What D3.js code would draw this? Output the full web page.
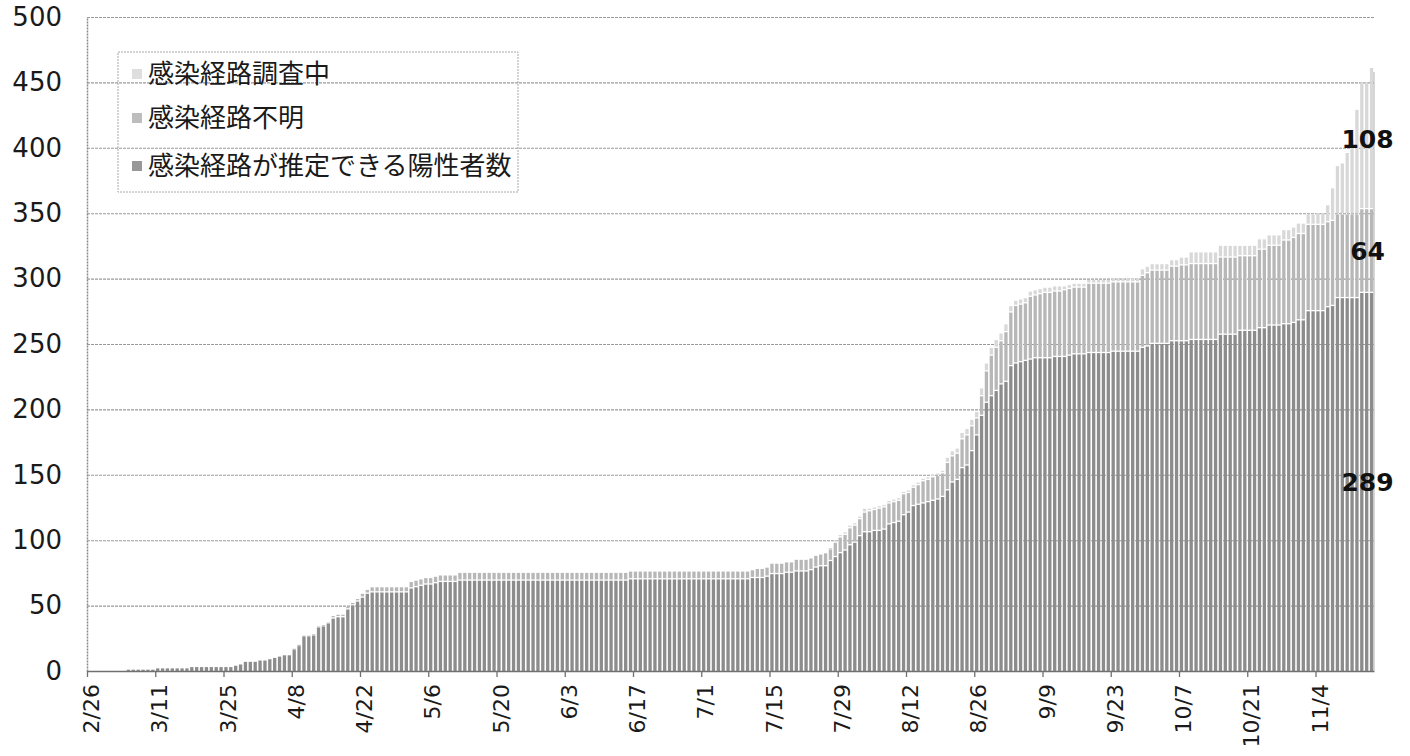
<!DOCTYPE html>
<html><head><meta charset="utf-8">
<script src="https://cdn.jsdelivr.net/npm/d3@7"></script>
<style>body{margin:0;background:#fff;}svg{display:block}</style>
</head><body>
<svg id="chart" width="1410" height="756"></svg>
<script>
// ---- data (cumulative counts, one value per day from 2/26 to 11/15) ----
const seriesNames = ["感染経路が推定できる陽性者数", "感染経路不明", "感染経路調査中"];
const tickLabels = ["2/26","3/11","3/25","4/8","4/22","5/6","5/20","6/3","6/17","7/1","7/15","7/29","8/12","8/26","9/9","9/23","10/7","10/21","11/4"];
const yTicks = [0,50,100,150,200,250,300,350,400,450,500];

const estimated = [
0,0,0,0,0,0,0,0,1,1,
1,1,1,1,2,2,2,2,2,2,
2,3,3,3,3,3,3,3,3,3,
4,5,7,7,7,8,8,9,10,11,
12,12,16,19,26,26,27,33,34,36,
40,41,41,47,50,53,56,59,60,60,
60,60,60,60,60,60,63,64,65,66,
66,67,68,68,68,68,69,69,69,69,
69,69,69,69,69,69,69,69,69,69,
69,69,69,69,69,69,69,69,69,69,
69,69,69,69,69,69,69,69,69,69,
69,70,70,70,70,70,70,70,70,70,
70,70,70,70,70,70,70,70,70,70,
70,70,70,70,70,70,71,71,71,72,
74,74,74,75,75,76,76,76,77,79,
80,80,84,87,90,92,96,98,103,106,
106,107,107,108,112,113,114,119,121,126,
127,128,129,130,131,133,138,144,146,155,
157,168,180,195,205,210,214,219,221,233,
235,236,237,238,239,239,239,239,240,240,
240,241,242,242,242,243,243,243,243,243,
244,244,244,244,244,244,247,248,250,250,
250,250,252,252,252,252,253,253,253,253,
253,253,257,257,257,257,260,260,260,260,
262,262,264,264,264,265,265,266,268,268,
275,275,275,275,278,279,285,285,285,285,
285,289,289,289];

const unknown = [
0,0,0,0,0,0,0,0,0,0,
0,0,0,0,0,0,0,0,0,0,
0,0,0,0,0,0,0,0,0,0,
0,0,0,0,0,0,0,0,0,0,
0,0,1,1,1,1,1,1,1,1,
2,2,2,2,2,2,3,3,4,4,
4,4,4,4,4,4,5,5,5,5,
5,5,5,5,5,5,6,6,6,6,
6,6,6,6,6,6,6,6,6,6,
6,6,6,6,6,6,6,6,6,6,
6,6,6,6,6,6,6,6,6,6,
6,6,6,6,6,6,6,6,6,6,
6,6,6,6,6,6,6,6,6,6,
6,6,6,6,6,6,6,7,7,7,
8,8,8,8,8,9,9,9,9,9,
9,10,9,11,12,12,13,13,13,15,
16,16,17,17,16,16,16,16,15,14,
15,17,17,18,18,18,21,20,20,22,
23,19,13,15,24,31,33,33,38,41,
44,44,44,48,48,49,50,50,50,50,
51,51,51,51,51,53,53,53,53,53,
53,53,53,53,53,53,55,56,56,56,
56,56,57,57,58,58,58,58,58,58,
58,58,59,59,59,59,57,57,57,57,
60,60,61,61,61,64,64,65,66,66,
66,66,66,66,65,65,64,64,64,64,
64,64,64,64];

const investigating = [
0,0,0,0,0,0,0,0,0,0,
0,0,0,0,0,0,0,0,0,0,
0,0,0,0,0,0,0,0,0,0,
0,0,0,0,0,0,0,0,0,0,
0,0,0,0,0,0,0,0,0,0,
0,0,0,0,0,0,0,0,0,0,
0,0,0,0,0,0,0,0,0,0,
0,0,0,0,0,0,0,0,0,0,
0,0,0,0,0,0,0,0,0,0,
0,0,0,0,0,0,0,0,0,0,
0,0,0,0,0,0,0,0,0,0,
0,0,0,0,0,0,0,0,0,0,
0,0,0,0,0,0,0,0,0,0,
0,0,0,0,0,0,0,0,0,0,
0,0,0,0,0,0,0,0,0,0,
0,0,1,2,2,2,2,2,2,3,
2,2,2,2,2,2,2,2,2,2,
2,2,2,2,2,2,4,4,4,5,
5,5,5,6,6,6,6,6,6,5,
4,4,4,4,4,4,4,4,4,4,
3,3,3,3,3,3,3,3,3,3,
3,3,3,3,3,3,5,5,5,5,
5,5,5,5,6,6,9,9,9,9,
9,9,9,9,9,9,8,8,8,8,
8,8,8,8,8,8,8,8,8,8,
8,8,9,9,13,25,37,39,47,57,
80,97,97,108];

const categories = d3.timeDay.range(new Date(2020,1,26), new Date(2020,10,16))
  .map(d => (d.getMonth()+1) + "/" + d.getDate());

// ---- layout ----
const W = 1410, H = 756;
const L = 87, R = 1374, T = 17, B = 671;
const svg = d3.select("#chart");
svg.append("rect").attr("width", W).attr("height", H).attr("fill", "#fff");

const x = d3.scaleBand().domain(categories).range([L, R]).paddingInner(0.32).paddingOuter(0.16);
const xi = d3.scaleLinear().domain([0, categories.length]).range([L, R]);
const y = d3.scaleLinear().domain([0, 500]).range([B, T]);

// gridlines
const grid = svg.append("g").attr("transform", `translate(${L},0)`)
  .call(d3.axisLeft(y).tickValues(yTicks.filter(v => v > 0)).tickSize(-(R - L)).tickFormat(""));
grid.select(".domain").remove();
grid.selectAll(".tick line").attr("stroke", "#9a9a9a").attr("stroke-width", 1.1).attr("stroke-dasharray", "3,1");

// stacked bars
const rows = categories.map((c, i) => ({cat: c, est: estimated[i], unk: unknown[i], inv: investigating[i]}));
const keys = ["est", "unk", "inv"];
const colors = {est: "#8c8c8c", unk: "#b7b7b7", inv: "#d8d8d8"};
const stacked = d3.stack().keys(keys)(rows);

stacked.forEach((layer, k) => {
  svg.append("g").selectAll("rect").data(layer).join("rect")
    .attr("x", d => x(d.data.cat))
    .attr("width", x.bandwidth())
    .attr("y", d => y(d[1]))
    .attr("height", d => {
      const h = y(d[0]) - y(d[1]);
      return k > 0 && h > 1.5 ? h - 1.3 : Math.max(0, h);
    })
    .attr("fill", colors[layer.key]);
});

// y axis
const yAxis = svg.append("g").attr("transform", `translate(${L},0)`)
  .call(d3.axisLeft(y).tickValues(yTicks).tickSize(0).tickPadding(25));
yAxis.select(".domain").attr("stroke", "#8a8a8a").attr("stroke-width", 1.5).attr("stroke-dasharray", "2,1");
yAxis.selectAll("text").attr("font-family", "DejaVu Sans, Verdana, sans-serif").attr("font-size", 26).attr("fill", "#1a1a1a");

// x axis
const tickIdx = tickLabels.map(t => categories.indexOf(t));
const xAxis = svg.append("g").attr("transform", `translate(0,${B})`)
  .call(d3.axisBottom(xi).tickValues(tickIdx).tickFormat(i => categories[i]).tickSize(6).tickSizeOuter(0));
xAxis.select(".domain").attr("stroke", "#707070").attr("stroke-width", 1.5);
xAxis.selectAll(".tick line").attr("stroke", "#707070").attr("stroke-width", 1.3);
xAxis.selectAll("text")
  .attr("font-family", "DejaVu Sans, Verdana, sans-serif").attr("font-size", 22).attr("fill", "#1a1a1a")
  .attr("transform", "translate(4,13) rotate(-90)")
  .attr("text-anchor", "end").attr("dy", "0.35em").attr("y", 0).attr("x", 0);

// right edge line
svg.append("line").attr("x1", R).attr("x2", R).attr("y1", T + 55).attr("y2", B)
  .attr("stroke", "#b0b0b0").attr("stroke-width", 1);

// legend
const lg = svg.append("g");
lg.append("rect").attr("x", 118).attr("y", 52).attr("width", 400).attr("height", 140)
  .attr("fill", "none").attr("stroke", "#a8a8a8").attr("stroke-width", 1).attr("stroke-dasharray", "2,1");
const legendItems = [
  {name: seriesNames[2], color: "#dedede", cy: 74},
  {name: seriesNames[1], color: "#bdbdbd", cy: 118},
  {name: seriesNames[0], color: "#989898", cy: 166}
];
legendItems.forEach(it => {
  lg.append("rect").attr("x", 132).attr("y", it.cy - 5).attr("width", 10).attr("height", 10).attr("fill", it.color);
  lg.append("text").attr("x", 148).attr("y", it.cy).attr("dy", "0.36em")
    .attr("font-family", "Noto Sans CJK JP, sans-serif").attr("font-size", 26).attr("fill", "#1a1a1a")
    .text(it.name);
});

// value labels on the last bar
const last = stacked.map(layer => layer[layer.length - 1]);
const lx = x(categories[categories.length - 1]) + x.bandwidth() / 2 - 4;
last.forEach(d => {
  svg.append("text").attr("x", lx).attr("y", y((d[0] + d[1]) / 2)).attr("dy", "0.36em")
    .attr("text-anchor", "middle").attr("font-family", "DejaVu Sans, Verdana, sans-serif")
    .attr("font-weight", "bold").attr("font-size", 25).attr("fill", "#111")
    .text(d[1] - d[0]);
});
</script>
</body></html>
